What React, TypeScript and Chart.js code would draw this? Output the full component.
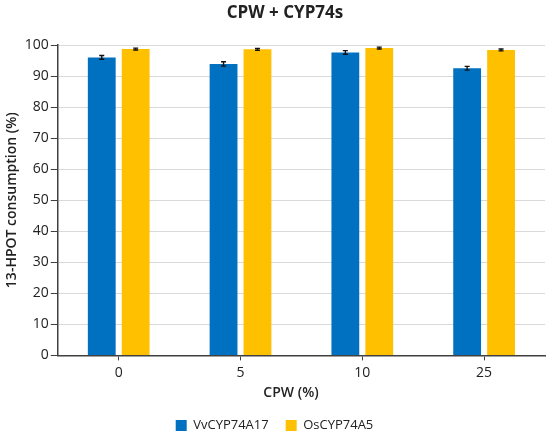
import React, { useEffect, useRef } from "react";
import { Chart, registerables } from "chart.js";

Chart.register(...registerables);

const categories = ["0", "5", "10", "25"];
const seriesNames = ["VvCYP74A17", "OsCYP74A5"];
const vvValues = [96.0, 93.9, 97.6, 92.5];
const vvErrors = [0.6, 0.7, 0.6, 0.6];
const osValues = [98.7, 98.6, 99.0, 98.4];
const osErrors = [0.3, 0.3, 0.3, 0.3];
const yTicks = [0, 10, 20, 30, 40, 50, 60, 70, 80, 90, 100];
const chartTitle = "CPW + CYP74s";
const xTitle = "CPW (%)";
const yTitle = "13-HPOT consumption (%)";

const FONT = "'Open Sans', 'Noto Sans', sans-serif";
const TEXT = "#222";

const errorBarPlugin = {
  id: "errorBars",
  afterDatasetsDraw(chart: any) {
    const ctx = chart.ctx;
    const yScale = chart.scales.y;
    chart.data.datasets.forEach((ds: any, i: number) => {
      const meta = chart.getDatasetMeta(i);
      if (meta.hidden) return;
      const errs: number[] = ds.errors || [];
      meta.data.forEach((bar: any, j: number) => {
        const v = ds.data[j];
        const e = errs[j] || 0;
        const x = bar.x;
        const yTop = yScale.getPixelForValue(v + e);
        const yBot = yScale.getPixelForValue(v - e);
        const cap = 2.5;
        ctx.save();
        ctx.strokeStyle = "#111";
        ctx.lineWidth = 1.4;
        ctx.beginPath();
        ctx.moveTo(x, yTop);
        ctx.lineTo(x, yBot);
        ctx.moveTo(x - cap, yTop);
        ctx.lineTo(x + cap, yTop);
        ctx.moveTo(x - cap, yBot);
        ctx.lineTo(x + cap, yBot);
        ctx.stroke();
        ctx.restore();
      });
    });
  },
};

const titlesPlugin = {
  id: "titlesText",
  afterDraw(chart: any) {
    const ctx = chart.ctx;
    ctx.save();
    ctx.fillStyle = TEXT;
    ctx.textAlign = "center";
    ctx.textBaseline = "middle";
    ctx.font = `bold 17px ${FONT}`;
    ctx.fillText(chartTitle, 285, 13);
    ctx.font = `600 14px ${FONT}`;
    ctx.fillText(xTitle, 291, 393);
    ctx.restore();
  },
};

export default function App() {
  const ref = useRef<HTMLCanvasElement | null>(null);
  useEffect(() => {
    document.body.style.margin = "0";
    const chart = new Chart(ref.current as HTMLCanvasElement, {
      type: "bar",
      data: {
        labels: categories,
        datasets: [
          {
            label: seriesNames[0],
            data: vvValues,
            errors: vvErrors,
            backgroundColor: "#0070C0",
            borderWidth: 0,
            categoryPercentage: 0.557,
            barPercentage: 0.82,
          } as any,
          {
            label: seriesNames[1],
            data: osValues,
            errors: osErrors,
            backgroundColor: "#FFC000",
            borderWidth: 0,
            categoryPercentage: 0.557,
            barPercentage: 0.82,
          } as any,
        ],
      },
      options: {
        animation: false,
        responsive: false,
        devicePixelRatio: 1,
        layout: { padding: { left: 4, right: 5, top: 45, bottom: -5 } },
        plugins: {
          title: { display: false },
          legend: {
            position: "bottom",
            labels: {
              color: TEXT,
              font: { family: FONT, size: 13 },
              boxWidth: 11,
              boxHeight: 11,
              padding: 17,
            },
          },
          tooltip: { enabled: false },
        },
        scales: {
          x: {
            grid: {
              drawOnChartArea: false,
              drawTicks: true,
              tickLength: 5,
              offset: false,
              tickColor: "#404040",
            },
            border: { display: true, color: "#404040", width: 1.5 },
            ticks: { color: TEXT, font: { family: FONT, size: 14 }, padding: 4 },
            title: {
              display: true,
              text: xTitle,
              color: "rgba(0,0,0,0)",
              font: { family: FONT, size: 14, weight: "600" },
              padding: { top: 0, bottom: 0 },
            },
          },
          y: {
            min: 0,
            max: 100,
            afterBuildTicks: (axis: any) => {
              axis.ticks = yTicks.map((v) => ({ value: v }));
            },
            grid: {
              color: "#d9d9d9",
              borderDash: [5, 4],
              tickLength: 7,
              tickColor: "#404040",
              tickBorderDash: [],
            } as any,
            border: { display: true, color: "#404040", width: 1.5 },
            ticks: { color: TEXT, font: { family: FONT, size: 14 }, padding: 2 },
            title: {
              display: true,
              text: yTitle,
              color: TEXT,
              font: { family: FONT, size: 14, weight: "600" },
              padding: { top: 0, bottom: 2 },
            },
          },
        },
      } as any,
      plugins: [errorBarPlugin, titlesPlugin],
    });
    return () => chart.destroy();
  }, []);
  return (
    <div style={{ width: 550, height: 437, background: "#fff" }}>
      <canvas ref={ref} width={550} height={437} />
    </div>
  );
}
